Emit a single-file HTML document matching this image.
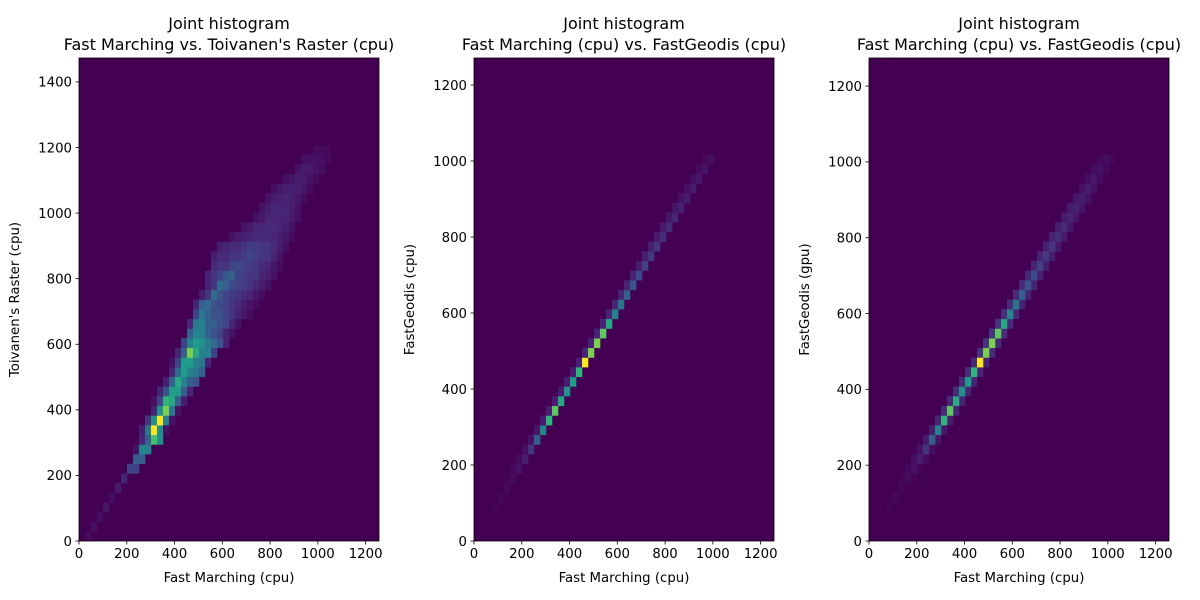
<!DOCTYPE html>
<html><head><meta charset="utf-8">
<style>
html,body{margin:0;padding:0;background:#fff;}
svg{display:block;font-family:"DejaVu Sans","Liberation Sans",sans-serif;}
</style></head>
<body>
<svg id="fig" width="1200" height="600" viewBox="0 0 1200 600" xmlns="http://www.w3.org/2000/svg"></svg>
<script>
// ---- data ----
const nBins = 50;
const xMax = 1256;
const yMax1 = 1473, yMax2 = 1271, yMax3 = 1274;
const xTicks = [0,200,400,600,800,1000,1200];
const yTicks1 = [0,200,400,600,800,1000,1200,1400];
const yTicks2 = [0,200,400,600,800,1000,1200];
const yTicks3 = [0,200,400,600,800,1000,1200];
// panel 1: per y-bin row, starting x-bin and values
const rowStart1 = [1,2,3,4,5,6,7,8,9,9,10,10,11,12,12,13,14,15,15,16,17,18,18,19,19,20,21,21,22,22,23,25,27,29,30,31,32,34,36,37,39];
const rowVals1 = [
 [0.03],[0.04],[0.04],[0.06],[0.04],[0.07],[0.1],[0.2,0.2],[0.3,0.3],[0.05,0.45,0.45],
 [0.1,0.3,0.7,0.5],[0.08,0.4,1.0,0.5,0.05],[0.15,0.5,1.0,0.45,0.05],[0.1,0.5,0.8,0.4,0.05],
 [0.05,0.2,0.65,0.6,0.3,0.08],[0.1,0.25,0.55,0.55,0.3,0.1],[0.08,0.3,0.6,0.45,0.3,0.25],
 [0.1,0.35,0.55,0.45,0.4,0.3],[0.05,0.2,0.55,0.55,0.45,0.4,0.1],[0.1,0.3,0.8,0.6,0.45,0.45,0.2],
 [0.2,0.45,0.55,0.5,0.4,0.35,0.25,0.1],[0.3,0.45,0.45,0.3,0.25,0.2,0.1,0.05],
 [0.1,0.4,0.45,0.3,0.3,0.25,0.2,0.1,0.05],[0.2,0.4,0.3,0.25,0.25,0.2,0.15,0.1,0.06,0.03],
 [0.1,0.3,0.35,0.25,0.22,0.2,0.15,0.12,0.08,0.05,0.03],
 [0.08,0.15,0.35,0.25,0.2,0.18,0.15,0.12,0.1,0.06,0.03],
 [0.1,0.15,0.35,0.3,0.22,0.2,0.18,0.15,0.1,0.08,0.05],
 [0.1,0.15,0.2,0.28,0.3,0.2,0.18,0.15,0.15,0.1,0.08,0.05],
 [0.12,0.15,0.15,0.2,0.22,0.2,0.18,0.15,0.12,0.1,0.06,0.03],
 [0.08,0.12,0.12,0.15,0.15,0.18,0.2,0.18,0.15,0.15,0.1,0.05],
 [0.08,0.1,0.12,0.12,0.15,0.18,0.18,0.15,0.15,0.12,0.08,0.04],
 [0.05,0.07,0.09,0.1,0.12,0.12,0.12,0.1,0.08,0.06,0.03],
 [0.05,0.07,0.1,0.1,0.12,0.12,0.1,0.08,0.05],
 [0.05,0.07,0.1,0.1,0.1,0.1,0.07,0.04],
 [0.05,0.08,0.1,0.1,0.1,0.08,0.05],
 [0.05,0.07,0.09,0.1,0.08,0.06,0.03],
 [0.04,0.06,0.08,0.09,0.08,0.06,0.03],
 [0.04,0.06,0.08,0.07,0.05,0.03],
 [0.05,0.07,0.07,0.05,0.03],
 [0.04,0.05,0.05,0.04,0.02],
 [0.03,0.03,0.02]
];
// panel 2/3: diagonal bins starting at bin 3
const diagStart = 3;
const diagVals = [0.01,0.02,0.02,0.03,0.05,0.08,0.15,0.3,0.45,0.65,0.75,0.6,0.5,0.55,0.65,1.0,0.8,0.8,0.75,0.6,0.45,0.38,0.3,0.26,0.22,0.19,0.17,0.15,0.13,0.12,0.1,0.09,0.08,0.07,0.06,0.05,0.04];
const sideVals2 = [0,0,0,0.01,0.02,0.03,0.04,0.05,0.06,0.07,0.08,0.08,0.08,0.08,0.08,0.09,0.1,0.1,0.1,0.1,0.1,0.1,0.1,0.1,0.1,0.08,0.08,0.08,0.07,0.07,0.06,0.06,0.05,0.04,0.04,0.03,0.02];
const sideVals3 = [0,0,0,0.01,0.02,0.04,0.05,0.07,0.08,0.1,0.12,0.12,0.12,0.12,0.12,0.12,0.14,0.15,0.15,0.14,0.13,0.12,0.12,0.12,0.11,0.1,0.1,0.09,0.09,0.08,0.07,0.07,0.06,0.05,0.04,0.03,0.02];

// ---- rendering ----
const NS = "http://www.w3.org/2000/svg";
const svg = document.getElementById('fig');
const vir = [[68,1,84],[72,40,120],[62,74,137],[49,104,142],[38,130,142],[31,158,137],[53,183,121],[109,205,89],[180,222,44],[253,231,37]];
function viridis(t){t=Math.max(0,Math.min(1,t));const f=t*(vir.length-1);const i=Math.min(vir.length-2,Math.floor(f));const u=f-i;
 const c=vir[i].map((v,k)=>Math.round(v+(vir[i+1][k]-v)*u));return `rgb(${c[0]},${c[1]},${c[2]})`;}
function mk(tag,attrs,parent){const e=document.createElementNS(NS,tag);for(const k in attrs)e.setAttribute(k,attrs[k]);(parent||svg).appendChild(e);return e;}

const PW=300, PH=483, PT=58;
function panel(idx,left,yMax,yTicks,title2,ylabel,cells){
 const g=mk('g',{});
 
 
 const xs=v=>left+v/xMax*PW, ys=v=>PT+PH-v/yMax*PH;
 const bg=mk('rect',{x:left,y:PT,width:PW,height:PH,fill:viridis(0)},g);
 
 
 const bwx=xMax/nBins, bwy=yMax/nBins;
 cells.forEach(c=>{
  if(c.v<=0)return;
  const x0=xs(c.i*bwx), x1=xs((c.i+1)*bwx), y0=ys((c.j+1)*bwy), y1=ys(c.j*bwy);
  const r=mk('rect',{x:x0,y:y0,width:x1-x0+0.3,height:y1-y0+0.3,fill:viridis(c.v)},g);
  
  
 });
 const fr=mk('rect',{x:left,y:PT,width:PW,height:PH,fill:'none',stroke:'#000','stroke-width':0.8},g);
 
 
 xTicks.forEach(t=>{const x=xs(t);
  mk('line',{x1:x,x2:x,y1:PT+PH,y2:PT+PH+3.5,stroke:'#000','stroke-width':0.8},g);
  const tx=mk('text',{x:x,y:PT+PH+17,'font-size':13.3,'text-anchor':'middle',fill:'#000'},g);tx.textContent=t;
  
  });
 yTicks.forEach(t=>{const y=ys(t);
  mk('line',{x1:left-3.5,x2:left,y1:y,y2:y,stroke:'#000','stroke-width':0.8},g);
  const tx=mk('text',{x:left-7,y:y+4.8,'font-size':13.3,'text-anchor':'end',fill:'#000'},g);tx.textContent=t;
  
  });
 const xl=mk('text',{x:left+PW/2,y:582,'font-size':13.3,'text-anchor':'middle'},g);xl.textContent='Fast Marching (cpu)';
 
 
 const ylx=left-60;
 const yl=mk('text',{x:ylx,y:PT+PH/2,'font-size':13.3,'text-anchor':'middle',transform:`rotate(-90 ${ylx} ${PT+PH/2})`},g);yl.textContent=ylabel;
 
 
 const t1=mk('text',{x:left+PW/2,y:29,'font-size':16,'text-anchor':'middle'},g);t1.textContent='Joint histogram';
 
 
 const t2=mk('text',{x:left+PW/2,y:50,'font-size':16,'text-anchor':'middle'},g);t2.textContent=title2;
 
 
}
const cells1=[];rowVals1.forEach((row,j)=>row.forEach((v,k)=>cells1.push({i:rowStart1[j]+k,j:j,v:v})));
const cells2=[],cells3=[];
diagVals.forEach((v,k)=>{const b=diagStart+k;
 cells2.push({i:b-1,j:b,v:sideVals2[k]});cells2.push({i:b,j:b,v:v});
 cells3.push({i:b-1,j:b,v:sideVals3[k]});cells3.push({i:b+1,j:b,v:sideVals3[k]*0.8});cells3.push({i:b,j:b,v:v});});
panel(1,79,yMax1,yTicks1,"Fast Marching vs. Toivanen's Raster (cpu)","Toivanen's Raster (cpu)",cells1);
panel(2,474,yMax2,yTicks2,"Fast Marching (cpu) vs. FastGeodis (cpu)","FastGeodis (cpu)",cells2);
panel(3,869,yMax3,yTicks3,"Fast Marching (cpu) vs. FastGeodis (cpu)","FastGeodis (gpu)",cells3);
</script>
</body></html>
